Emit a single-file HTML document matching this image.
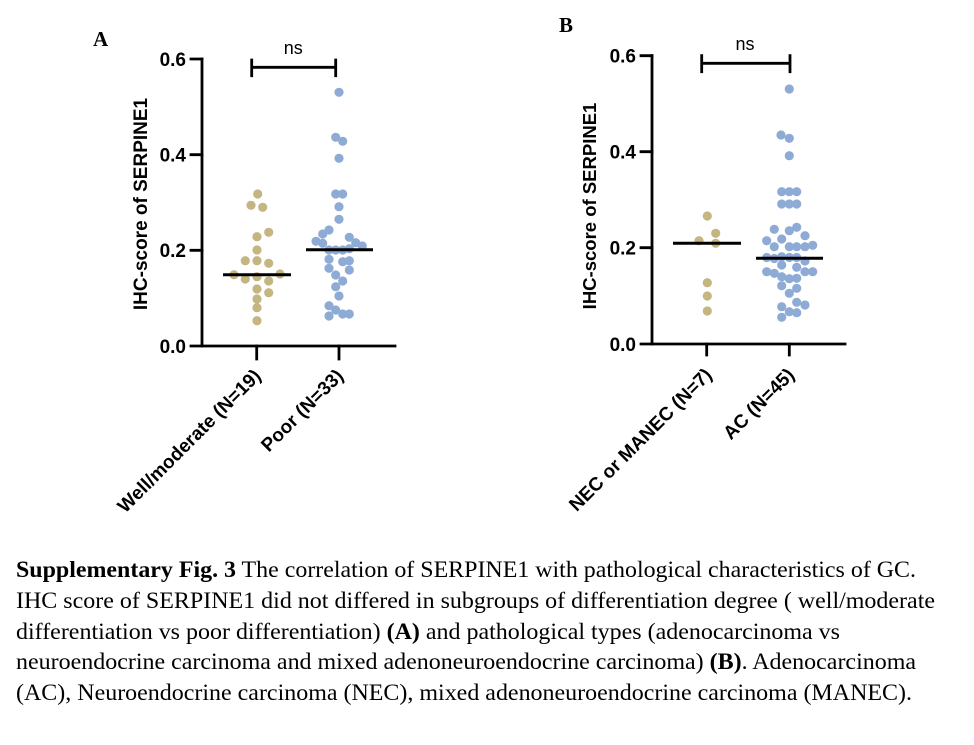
<!DOCTYPE html>
<html>
<head>
<meta charset="utf-8">
<style>
html,body{margin:0;padding:0;background:#fff;}
svg{display:block;}
.tl{font-family:"Liberation Sans",Arial,sans-serif;font-weight:bold;font-size:19px;fill:#000;}
.ax{font-family:"Liberation Sans",Arial,sans-serif;font-weight:bold;font-size:19px;fill:#000;}
.ns{font-family:"Liberation Sans",Arial,sans-serif;font-size:18px;fill:#000;}
.cap{font-family:"Liberation Serif","Times New Roman",serif;font-size:23px;fill:#000;}
.pl{font-family:"Liberation Serif","Times New Roman",serif;font-size:21px;font-weight:bold;fill:#000;}
</style>
</head>
<body>
<svg width="974" height="745" viewBox="0 0 974 745" xmlns="http://www.w3.org/2000/svg">
<rect width="974" height="745" fill="#fff"/>

<!-- Panel letters -->
<text class="pl" x="93" y="46">A</text>
<text class="pl" x="559" y="32">B</text>

<!-- ================= PANEL A ================= -->
<g stroke="#000" stroke-width="2.8" fill="none" stroke-linecap="square">
  <path d="M202 59 L202 346 L395 346"/>
  <path d="M191 59 H202 M191 154.7 H202 M191 250.3 H202 M191 346 H202"/>
  <path d="M256.7 346 V359 M339 346 V359"/>
  <path d="M251.7 60 V75.7 M251.7 67.3 H335.7 M335.7 60 V75.7"/>
</g>
<text class="tl" x="186" y="65.8" text-anchor="end">0.6</text>
<text class="tl" x="186" y="161.5" text-anchor="end">0.4</text>
<text class="tl" x="186" y="257.1" text-anchor="end">0.2</text>
<text class="tl" x="186" y="352.8" text-anchor="end">0.0</text>
<text class="ns" x="293.3" y="54" text-anchor="middle">ns</text>
<text class="ax" transform="translate(147,204) rotate(-90)" text-anchor="middle">IHC-score of SERPINE1</text>
<text class="ax" transform="translate(262,377) rotate(-45)" text-anchor="end">Well/moderate (N=19)</text>
<text class="ax" transform="translate(344.5,377) rotate(-45)" text-anchor="end">Poor (N=33)</text>

<g fill="#C4B581">
  <circle cx="257.7" cy="194" r="4.6"/>
  <circle cx="251" cy="205.3" r="4.6"/>
  <circle cx="262.7" cy="207.3" r="4.6"/>
  <circle cx="268.7" cy="232.3" r="4.6"/>
  <circle cx="257" cy="236.7" r="4.6"/>
  <circle cx="257" cy="250" r="4.6"/>
  <circle cx="245.3" cy="260.7" r="4.6"/>
  <circle cx="257" cy="260.7" r="4.6"/>
  <circle cx="268.7" cy="263.3" r="4.6"/>
  <circle cx="234" cy="274.7" r="4.6"/>
  <circle cx="280" cy="274" r="4.6"/>
  <circle cx="245.3" cy="279" r="4.6"/>
  <circle cx="257" cy="276.7" r="4.6"/>
  <circle cx="268.7" cy="281" r="4.6"/>
  <circle cx="257" cy="289" r="4.6"/>
  <circle cx="268.7" cy="292.7" r="4.6"/>
  <circle cx="257" cy="299" r="4.6"/>
  <circle cx="257" cy="307.7" r="4.6"/>
  <circle cx="257" cy="320.7" r="4.6"/>
</g>
<g fill="#8EABD6">
  <circle cx="339" cy="92.3" r="4.6"/>
  <circle cx="335.7" cy="137.3" r="4.6"/>
  <circle cx="342.7" cy="141.3" r="4.6"/>
  <circle cx="339" cy="158.3" r="4.6"/>
  <circle cx="335.7" cy="194" r="4.6"/>
  <circle cx="342.7" cy="194" r="4.6"/>
  <circle cx="339" cy="206.7" r="4.6"/>
  <circle cx="339" cy="219.3" r="4.6"/>
  <circle cx="329" cy="230" r="4.6"/>
  <circle cx="322.7" cy="234" r="4.6"/>
  <circle cx="316" cy="241.3" r="4.6"/>
  <circle cx="322.7" cy="243.3" r="4.6"/>
  <circle cx="349.3" cy="237.3" r="4.6"/>
  <circle cx="355.7" cy="242.7" r="4.6"/>
  <circle cx="362.3" cy="246" r="4.6"/>
  <circle cx="329" cy="250" r="4.6"/>
  <circle cx="335.7" cy="250" r="4.6"/>
  <circle cx="342.7" cy="250" r="4.6"/>
  <circle cx="349.3" cy="248.7" r="4.6"/>
  <circle cx="329" cy="259.3" r="4.6"/>
  <circle cx="342.7" cy="261.7" r="4.6"/>
  <circle cx="349.3" cy="260.7" r="4.6"/>
  <circle cx="329" cy="268.3" r="4.6"/>
  <circle cx="349.3" cy="270" r="4.6"/>
  <circle cx="335.7" cy="275" r="4.6"/>
  <circle cx="342.7" cy="281" r="4.6"/>
  <circle cx="335.7" cy="286.7" r="4.6"/>
  <circle cx="339" cy="296" r="4.6"/>
  <circle cx="329" cy="305.7" r="4.6"/>
  <circle cx="335.7" cy="310" r="4.6"/>
  <circle cx="329" cy="316" r="4.6"/>
  <circle cx="342.7" cy="314" r="4.6"/>
  <circle cx="349.3" cy="314" r="4.6"/>
</g>
<g stroke="#000" stroke-width="3">
  <line x1="223" y1="274.7" x2="291" y2="274.7"/>
  <line x1="306" y1="249.7" x2="373" y2="249.7"/>
</g>

<!-- ================= PANEL B ================= -->
<g stroke="#000" stroke-width="2.8" fill="none" stroke-linecap="square">
  <path d="M652 55.7 L652 344 L845 344"/>
  <path d="M641 55.7 H652 M641 151.7 H652 M641 247.7 H652 M641 344 H652"/>
  <path d="M706.7 344 V355 M789.3 344 V355"/>
  <path d="M701.7 55.7 V71.7 M701.7 63.3 H790 M790 55.7 V71.7"/>
</g>
<text class="tl" x="636" y="62.5" text-anchor="end">0.6</text>
<text class="tl" x="636" y="158.5" text-anchor="end">0.4</text>
<text class="tl" x="636" y="254.5" text-anchor="end">0.2</text>
<text class="tl" x="636" y="350.8" text-anchor="end">0.0</text>
<text class="ns" x="745" y="50" text-anchor="middle">ns</text>
<text class="ax" transform="translate(596,206) rotate(-90)" text-anchor="middle" style="font-size:18.5px">IHC-score of SERPINE1</text>
<text class="ax" transform="translate(713,376) rotate(-45)" text-anchor="end">NEC or MANEC (N=7)</text>
<text class="ax" transform="translate(795.5,376) rotate(-45)" text-anchor="end">AC (N=45)</text>

<g fill="#C4B581">
  <circle cx="707.3" cy="216" r="4.6"/>
  <circle cx="699" cy="240.7" r="4.6"/>
  <circle cx="715.7" cy="233.3" r="4.6"/>
  <circle cx="715.7" cy="243.3" r="4.6"/>
  <circle cx="707.3" cy="282.7" r="4.6"/>
  <circle cx="707.3" cy="296" r="4.6"/>
  <circle cx="707.3" cy="311" r="4.6"/>
</g>
<g fill="#8EABD6">
  <circle cx="789.3" cy="89" r="4.6"/>
  <circle cx="781" cy="135" r="4.6"/>
  <circle cx="789.3" cy="138.3" r="4.6"/>
  <circle cx="789.3" cy="155.7" r="4.6"/>
  <circle cx="781.7" cy="191.7" r="4.6"/>
  <circle cx="789.3" cy="191.7" r="4.6"/>
  <circle cx="796.7" cy="191.7" r="4.6"/>
  <circle cx="781.7" cy="204" r="4.6"/>
  <circle cx="789.3" cy="204" r="4.6"/>
  <circle cx="796.7" cy="204" r="4.6"/>
  <circle cx="774.3" cy="229.3" r="4.6"/>
  <circle cx="789.3" cy="230.7" r="4.6"/>
  <circle cx="796.7" cy="227.3" r="4.6"/>
  <circle cx="805" cy="235.7" r="4.6"/>
  <circle cx="766.7" cy="240.7" r="4.6"/>
  <circle cx="781.7" cy="239" r="4.6"/>
  <circle cx="774.3" cy="246.7" r="4.6"/>
  <circle cx="789.3" cy="246.7" r="4.6"/>
  <circle cx="796.7" cy="246.7" r="4.6"/>
  <circle cx="805" cy="246.7" r="4.6"/>
  <circle cx="812.7" cy="245.3" r="4.6"/>
  <circle cx="766.7" cy="257.5" r="4.6"/>
  <circle cx="774.3" cy="258.5" r="4.6"/>
  <circle cx="781.7" cy="256.7" r="4.6"/>
  <circle cx="789.3" cy="257.5" r="4.6"/>
  <circle cx="796.7" cy="257.5" r="4.6"/>
  <circle cx="805" cy="261" r="4.6"/>
  <circle cx="781.7" cy="265" r="4.6"/>
  <circle cx="796.7" cy="267.3" r="4.6"/>
  <circle cx="766.7" cy="271.7" r="4.6"/>
  <circle cx="774.3" cy="273.3" r="4.6"/>
  <circle cx="805" cy="271.7" r="4.6"/>
  <circle cx="812.7" cy="271.7" r="4.6"/>
  <circle cx="781.7" cy="276.7" r="4.6"/>
  <circle cx="789.3" cy="278.7" r="4.6"/>
  <circle cx="796.7" cy="278.3" r="4.6"/>
  <circle cx="781.7" cy="285.7" r="4.6"/>
  <circle cx="796.7" cy="288.3" r="4.6"/>
  <circle cx="789.3" cy="293.3" r="4.6"/>
  <circle cx="796.7" cy="302.3" r="4.6"/>
  <circle cx="805" cy="305" r="4.6"/>
  <circle cx="781.7" cy="306.7" r="4.6"/>
  <circle cx="789.3" cy="311.7" r="4.6"/>
  <circle cx="796.7" cy="312.7" r="4.6"/>
  <circle cx="781.7" cy="317.3" r="4.6"/>
</g>
<g stroke="#000" stroke-width="3">
  <line x1="673" y1="243.3" x2="741" y2="243.3"/>
  <line x1="756" y1="258.3" x2="823" y2="258.3"/>
</g>

<!-- ================= CAPTION ================= -->
<text class="cap" x="16" y="577" textLength="900" lengthAdjust="spacingAndGlyphs"><tspan font-weight="bold">Supplementary Fig. 3</tspan> The correlation of SERPINE1 with pathological characteristics of GC.</text>
<text class="cap" x="16" y="608" textLength="919" lengthAdjust="spacingAndGlyphs">IHC score of SERPINE1 did not differed in subgroups of differentiation degree ( well/moderate</text>
<text class="cap" x="16" y="639" textLength="824" lengthAdjust="spacingAndGlyphs">differentiation vs poor differentiation) <tspan font-weight="bold">(A)</tspan> and pathological types (adenocarcinoma vs</text>
<text class="cap" x="16" y="669" textLength="900" lengthAdjust="spacingAndGlyphs">neuroendocrine carcinoma and mixed adenoneuroendocrine carcinoma) <tspan font-weight="bold">(B)</tspan>. Adenocarcinoma</text>
<text class="cap" x="16" y="700" textLength="896" lengthAdjust="spacingAndGlyphs">(AC), Neuroendocrine carcinoma (NEC), mixed adenoneuroendocrine carcinoma (MANEC).</text>
</svg>
</body>
</html>
